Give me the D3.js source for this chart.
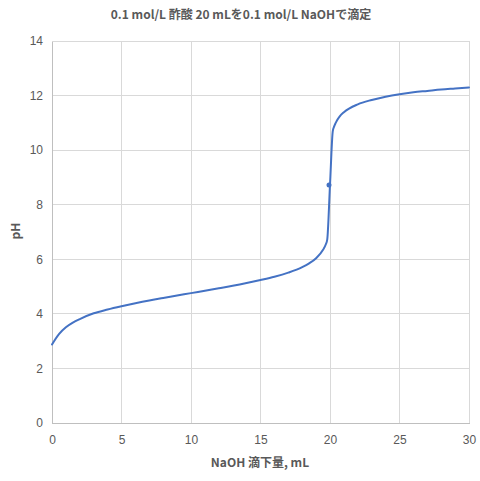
<!DOCTYPE html>
<html>
<head>
<meta charset="utf-8">
<script src="https://cdn.jsdelivr.net/npm/d3@7"></script>
<style>
  html, body { margin: 0; padding: 0; background: #fff; }
  svg { display: block; }
</style>
</head>
<body>
<svg id="chart" width="480" height="481"></svg>
<script>
// ---- data ----
const titleText = "0.1 mol/L 酢酸 20 mLを0.1 mol/L NaOHで滴定";
const xTitle = "NaOH 滴下量, mL";
const yTitle = "pH";
const volume = [0, 0.5, 1, 1.5, 2, 3, 4, 5, 6, 7, 8, 9, 10, 11, 12, 13, 14, 15, 16, 17, 18, 18.5, 19, 19.5, 19.7, 19.8, 20, 20.2, 20.3, 20.4, 20.5, 20.7, 21, 22, 23, 24, 25, 26, 27, 28, 29, 30];
const pH     = [2.88, 3.26, 3.51, 3.68, 3.81, 4.02, 4.16, 4.28, 4.39, 4.49, 4.58, 4.67, 4.76, 4.85, 4.94, 5.03, 5.13, 5.24, 5.36, 5.51, 5.71, 5.85, 6.04, 6.35, 6.55, 6.72, 8.72, 10.70, 10.87, 10.99, 11.09, 11.24, 11.39, 11.68, 11.84, 11.96, 12.05, 12.12, 12.17, 12.22, 12.26, 12.30];
const markerVolume = [20];
const markerPH = [8.72];
const xTicks = [0, 5, 10, 15, 20, 25, 30];
const yTicks = [0, 2, 4, 6, 8, 10, 12, 14];

// ---- layout ----
const svg = d3.select("#chart");
const mLeft = 52, mRight = 469, mTop = 41, mBottom = 423;
const x = d3.scaleLinear().domain([0, 30]).range([mLeft, mRight]);
const y = d3.scaleLinear().domain([0, 14]).range([mBottom, mTop]);
const grey = "#595959";
const tickFont = "'Liberation Sans', 'Noto Sans', sans-serif";
const cjkFont = "'Noto Sans CJK JP', 'Noto Sans', sans-serif";

// gridlines
svg.append("g").selectAll("line").data(yTicks.filter(d => d > 0)).join("line")
  .attr("x1", mLeft).attr("x2", mRight)
  .attr("y1", d => y(d)).attr("y2", d => y(d))
  .attr("stroke", "#d9d9d9").attr("stroke-width", 1).attr("shape-rendering", "crispEdges");
svg.append("g").selectAll("line").data(xTicks.filter(d => d > 0)).join("line")
  .attr("y1", mTop).attr("y2", mBottom)
  .attr("x1", d => x(d)).attr("x2", d => x(d))
  .attr("stroke", "#d9d9d9").attr("stroke-width", 1).attr("shape-rendering", "crispEdges");

// axes
const xAxis = d3.axisBottom(x).tickValues(xTicks).tickSize(0).tickPadding(12);
const gx = svg.append("g").attr("transform", `translate(0,${mBottom})`).call(xAxis);
gx.select(".domain").attr("stroke", "#bfbfbf").attr("shape-rendering", "crispEdges");
gx.selectAll("text").attr("fill", grey).attr("font-size", 12).attr("font-family", tickFont);

const yAxis = d3.axisLeft(y).tickValues(yTicks).tickSize(0).tickPadding(9);
const gy = svg.append("g").attr("transform", `translate(${mLeft},0)`).call(yAxis);
gy.select(".domain").attr("stroke", "#bfbfbf").attr("shape-rendering", "crispEdges");
gy.selectAll("text").attr("fill", grey).attr("font-size", 12).attr("font-family", tickFont);

// line
const pts = volume.map((v, i) => [v, pH[i]]);
const line = d3.line().x(d => x(d[0])).y(d => y(d[1])).curve(d3.curveMonotoneX);
svg.append("path").datum(pts).attr("d", line)
  .attr("fill", "none").attr("stroke", "#4472c4").attr("stroke-width", 2)
  .attr("stroke-linejoin", "round").attr("stroke-linecap", "round");

// marker
svg.append("g").selectAll("circle").data(markerVolume.map((v, i) => [v, markerPH[i]])).join("circle")
  .attr("cx", d => x(d[0]) - 1).attr("cy", d => y(d[1])).attr("r", 2.5).attr("fill", "#4472c4");

// titles
svg.append("text").attr("x", 241).attr("y", 19).attr("text-anchor", "middle")
  .attr("font-family", cjkFont).attr("font-weight", "bold").attr("font-size", 12)
  .attr("fill", grey).text(titleText);
svg.append("text").attr("x", 260).attr("y", 467).attr("text-anchor", "middle")
  .attr("font-family", cjkFont).attr("font-weight", "bold").attr("font-size", 12)
  .attr("fill", grey).text(xTitle);
svg.append("text").attr("transform", "translate(20,231) rotate(-90)").attr("text-anchor", "middle")
  .attr("font-family", cjkFont).attr("font-weight", "bold").attr("font-size", 12)
  .attr("fill", grey).text(yTitle);
</script>
</body>
</html>
